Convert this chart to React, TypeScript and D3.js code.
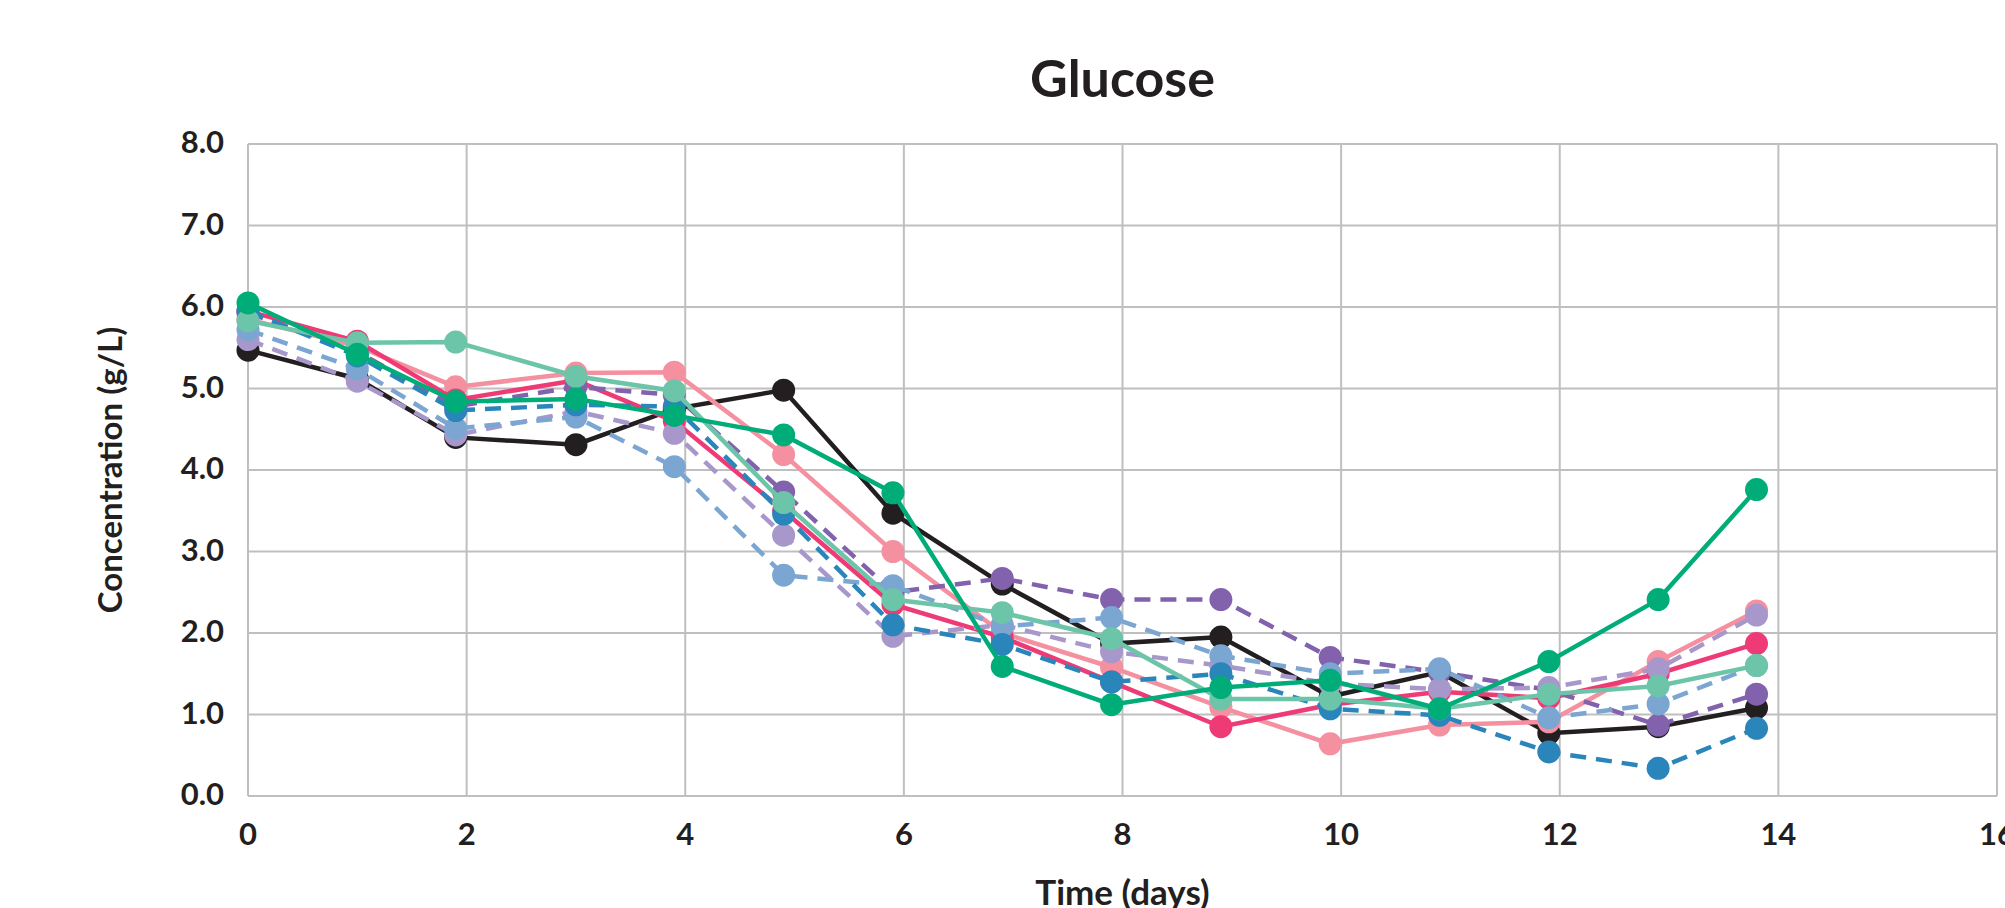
import React, { useEffect, useRef } from 'react'
import * as d3 from 'd3'

// sampling days (x) shared by every run
const DAYS = [0, 1, 1.9, 3, 3.9, 4.9, 5.9, 6.9, 7.9, 8.9, 9.9, 10.9, 11.9, 12.9, 13.8]

// glucose in g/L, one array per run
const BLACK = [5.47, 5.12, 4.4, 4.31, 4.75, 4.98, 3.47, 2.6, 1.87, 1.95, 1.22, 1.52, 0.77, 0.85, 1.08]
const LIGHT_PINK = [5.85, 5.52, 5.02, 5.19, 5.2, 4.19, 3.0, 2.0, 1.58, 1.09, 0.64, 0.87, 0.91, 1.65, 2.27]
const HOT_PINK = [5.95, 5.58, 4.86, 5.1, 4.6, 3.5, 2.35, 1.95, 1.4, 0.85, 1.12, 1.28, 1.2, 1.5, 1.87]
const PURPLE = [5.93, 5.45, 4.78, 5.02, 4.92, 3.73, 2.5, 2.67, 2.41, 2.41, 1.7, 1.52, 1.3, 0.87, 1.25]
const LIGHT_PURPLE = [5.6, 5.09, 4.43, 4.72, 4.45, 3.2, 1.96, 2.1, 1.77, 1.6, 1.38, 1.31, 1.33, 1.56, 2.22]
const LIGHT_BLUE = [5.72, 5.24, 4.51, 4.65, 4.04, 2.71, 2.58, 2.08, 2.19, 1.72, 1.5, 1.56, 0.96, 1.13, 1.6]
const BLUE = [5.95, 5.4, 4.73, 4.8, 4.78, 3.46, 2.1, 1.86, 1.4, 1.5, 1.07, 0.99, 0.54, 0.34, 0.83]
const MINT = [5.83, 5.56, 5.57, 5.15, 4.97, 3.6, 2.41, 2.25, 1.93, 1.19, 1.19, 1.07, 1.25, 1.35, 1.6]
const GREEN = [6.05, 5.42, 4.84, 4.87, 4.67, 4.43, 3.72, 1.59, 1.12, 1.33, 1.42, 1.07, 1.65, 2.41, 3.76]

const X_TICKS = [0, 2, 4, 6, 8, 10, 12, 14, 16]
const Y_TICKS = [0, 1, 2, 3, 4, 5, 6, 7, 8]

// drawn bottom to top
const SERIES = [
  { values: BLACK, color: '#231f20', dashed: false },
  { values: LIGHT_PINK, color: '#f4909f', dashed: false },
  { values: HOT_PINK, color: '#ee3a75', dashed: false },
  { values: PURPLE, color: '#8362ad', dashed: true },
  { values: LIGHT_PURPLE, color: '#a797cb', dashed: true },
  { values: LIGHT_BLUE, color: '#7ca6d2', dashed: true },
  { values: BLUE, color: '#2a85ba', dashed: true },
  { values: MINT, color: '#6cc5a9', dashed: false },
  { values: GREEN, color: '#00ad78', dashed: false }
]

const W = 2005
const H = 908
const FONT = 'Lato, "Open Sans", sans-serif'
const INK = '#231f20'

export default function App() {
  const ref = useRef<SVGSVGElement>(null)

  useEffect(() => {
    const svg = d3.select(ref.current)
    svg.selectAll('*').remove()

    const x = d3.scaleLinear().domain([0, 16]).range([248, 1997])
    const y = d3.scaleLinear().domain([0, 8]).range([796, 144])

    // grid
    const grid = svg.append('g').attr('stroke', '#bfbfbf').attr('stroke-width', 2)
    grid.selectAll('line.h')
      .data(Y_TICKS)
      .join('line')
      .attr('x1', x(0)).attr('x2', x(16))
      .attr('y1', d => y(d)).attr('y2', d => y(d))
    grid.selectAll('line.v')
      .data(X_TICKS)
      .join('line')
      .attr('class', 'v')
      .attr('x1', d => x(d)).attr('x2', d => x(d))
      .attr('y1', y(0)).attr('y2', y(8))

    // tick labels
    svg.append('g')
      .selectAll('text')
      .data(Y_TICKS)
      .join('text')
      .attr('x', x(0) - 24)
      .attr('y', d => y(d))
      .attr('dy', '0.3em')
      .attr('text-anchor', 'end')
      .text(d => d3.format('.1f')(d))

    svg.append('g')
      .selectAll('text')
      .data(X_TICKS)
      .join('text')
      .attr('x', d => x(d))
      .attr('y', 845)
      .attr('text-anchor', 'middle')
      .text(d => d)

    // titles
    svg.append('text')
      .attr('x', (x(0) + x(16)) / 2)
      .attr('y', 97)
      .attr('text-anchor', 'middle')
      .style('font-size', '52px')
      .text('Glucose')

    svg.append('text')
      .attr('x', (x(0) + x(16)) / 2)
      .attr('y', 905)
      .attr('text-anchor', 'middle')
      .style('font-size', '35px')
      .text('Time (days)')

    svg.append('text')
      .attr('transform', `translate(122, ${(y(0) + y(8)) / 2}) rotate(-90)`)
      .attr('text-anchor', 'middle')
      .style('font-size', '33px')
      .text('Concentration (g/L)')

    // runs
    const line = d3.line<number>()
      .x((d, i) => x(DAYS[i]))
      .y(d => y(d))

    SERIES.forEach(s => {
      const g = svg.append('g')
      g.append('path')
        .attr('d', line(s.values))
        .attr('fill', 'none')
        .attr('stroke', s.color)
        .attr('stroke-width', 4.5)
        .attr('stroke-dasharray', s.dashed ? '16 10' : null)
      g.selectAll('circle')
        .data(s.values)
        .join('circle')
        .attr('cx', (d, i) => x(DAYS[i]))
        .attr('cy', d => y(d))
        .attr('r', 11.5)
        .attr('fill', s.color)
    })
  }, [])

  return (
    <svg
      ref={ref}
      width={W}
      height={H}
      style={{ position: 'absolute', left: 0, top: 0, background: '#fff', fontFamily: FONT, fontWeight: 700, fontSize: 31, fill: INK }}
    />
  )
}
